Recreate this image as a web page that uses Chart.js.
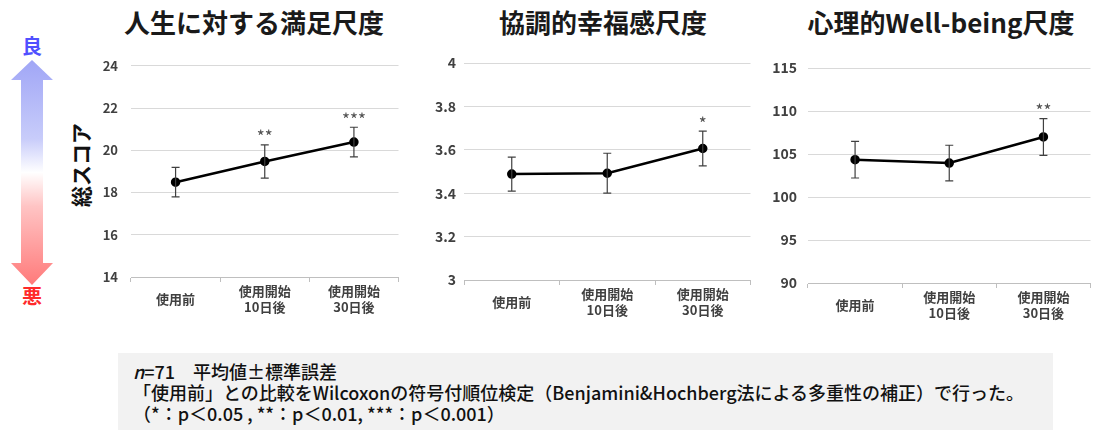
<!DOCTYPE html>
<html>
<head>
<meta charset="utf-8">
<script src="https://cdn.jsdelivr.net/npm/chart.js@4/dist/chart.umd.min.js"></script>
<style>
  body { margin: 0; background: #fff; font-family: "Noto Sans CJK JP", sans-serif; }
  #wrap { position: relative; width: 1097px; height: 430px; overflow: hidden; }
  canvas { position: absolute; }
  .title { position: absolute; top: 4px; font-size: 26px; font-weight: bold; color: #1a1a1a; transform: translateX(-50%); white-space: nowrap; line-height: 36px; }
  #good { position: absolute; left: 22px; top: 31px; font-size: 20px; font-weight: bold; color: #5050ff; }
  #bad { position: absolute; left: 22px; top: 281px; font-size: 20px; font-weight: bold; color: #ff2a2a; }
  #ylab { position: absolute; left: 80px; top: 165px; font-size: 21px; font-weight: bold; color: #111; transform: translate(-50%, -50%) rotate(-90deg); white-space: nowrap; }
  #note { position: absolute; left: 118px; top: 353px; width: 935px; height: 77px; background: #f2f2f2; }
  #note div { position: absolute; left: 15px; font-size: 18px; font-weight: 500; color: #111; white-space: nowrap; line-height: 20px; transform-origin: left center; }
</style>
</head>
<body>
<div id="wrap">
  <svg width="70" height="300" style="position:absolute;left:0;top:0">
    <defs>
      <linearGradient id="grad" x1="0" y1="60" x2="0" y2="285" gradientUnits="userSpaceOnUse">
        <stop offset="0" stop-color="#a0a6f6"/>
        <stop offset="0.35" stop-color="#c8ccfa"/>
        <stop offset="0.5" stop-color="#ffffff"/>
        <stop offset="0.65" stop-color="#ffc4c4"/>
        <stop offset="1" stop-color="#ff7a7a"/>
      </linearGradient>
    </defs>
    <polygon points="32,60 53,80 43,80 43,263 53,263 32,285 11,263 21,263 21,80 11,80" fill="url(#grad)"/>
  </svg>
  <div id="good">良</div>
  <div id="bad">悪</div>
  <div id="ylab">総スコア</div>

  <div class="title" style="left:254px">人生に対する満足尺度</div>
  <div class="title" style="left:603px">協調的幸福感尺度</div>
  <div class="title" style="left:941px">心理的Well-being尺度</div>

  <canvas id="life" width="310" height="290" style="left:95px;top:45px"></canvas>
  <canvas id="harmony" width="337" height="290" style="left:420px;top:45px"></canvas>
  <canvas id="wellbeing" width="337" height="290" style="left:760px;top:45px"></canvas>

  <div id="note">
    <div style="top:8px"><i>n</i>=71　平均値±標準誤差</div>
    <div style="top:29px">「使用前」との比較をWilcoxonの符号付順位検定（Benjamini&amp;Hochberg法による多重性の補正）で行った。</div>
    <div style="top:50px">（*：p＜0.05 , **：p＜0.01, ***：p＜0.001）</div>
  </div>
</div>

<script>
// data
const categories = ["使用前", ["使用開始", "10日後"], ["使用開始", "30日後"]];

const lifeMeans = [18.49, 19.47, 20.39];
const lifeSE = [0.70, 0.79, 0.70];
const lifeMarks = ["", "**", "***"];

const harmonyMeans = [3.488, 3.492, 3.606];
const harmonySE = [0.078, 0.092, 0.080];
const harmonyMarks = ["", "", "*"];

const wellMeans = [104.34, 103.95, 106.98];
const wellSE = [2.13, 2.07, 2.13];
const wellMarks = ["", "", "**"];

const FONT = "'Noto Sans CJK JP', sans-serif";

// error bars + significance marks
const errorBarPlugin = {
  id: "errorBars",
  afterDatasetsDraw(chart, args, opts) {
    const ctx = chart.ctx;
    const meta = chart.getDatasetMeta(0);
    const yScale = chart.scales.y;
    const means = chart.data.datasets[0].data;
    ctx.save();
    ctx.strokeStyle = "#404040";
    ctx.lineWidth = 1.2;
    meta.data.forEach((pt, i) => {
      const x = pt.x;
      const top = yScale.getPixelForValue(means[i] + opts.errors[i]);
      const bot = yScale.getPixelForValue(means[i] - opts.errors[i]);
      ctx.beginPath();
      ctx.moveTo(x, top); ctx.lineTo(x, bot);
      ctx.moveTo(x - 4, top); ctx.lineTo(x + 4, top);
      ctx.moveTo(x - 4, bot); ctx.lineTo(x + 4, bot);
      ctx.stroke();
      if (opts.marks[i]) {
        ctx.fillStyle = "#505050";
        ctx.font = "17px " + FONT;
        ctx.textAlign = "center";
        ctx.textBaseline = "middle";
        ctx.fillText(opts.marks[i], x, top - 8);
      }
    });
    ctx.restore();
  }
};

function makeChart(id, means, errors, marks, cfg) {
  return new Chart(document.getElementById(id), {
    type: "line",
    data: {
      labels: categories,
      datasets: [{
        data: means,
        borderColor: "#000",
        borderWidth: 2.5,
        pointRadius: 3.5,
        pointBackgroundColor: "#000",
        pointBorderColor: "#000",
        tension: 0,
      }],
    },
    options: {
      responsive: false,
      animation: false,
      devicePixelRatio: 1,
      layout: { padding: { top: cfg.padTop, right: cfg.padRight, left: 0, bottom: 0 } },
      plugins: {
        legend: { display: false },
        tooltip: { enabled: false },
        errorBars: { errors: errors, marks: marks },
      },
      scales: {
        x: {
          offset: true,
          grid: { offset: true, drawOnChartArea: false, color: "#bfbfbf", tickLength: 5 },
          border: { color: "#bfbfbf" },
          ticks: {
            color: "#404040",
            font: { family: FONT, size: 13, weight: "bold" },
            padding: 9,
            maxRotation: 0,
            crossAlign: "center",
          },
          afterFit: (s) => { s.height = cfg.xHeight; },
        },
        y: {
          min: cfg.min,
          max: cfg.max,
          ticks: {
            stepSize: cfg.step,
            color: "#404040",
            font: { family: FONT, size: cfg.yFont, weight: "bold" },
            padding: cfg.yPad,
            callback: (v) => String(Math.round(v * 10) / 10),
          },
          grid: { color: "#d9d9d9", drawTicks: false },
          border: { display: false },
          afterFit: (s) => { s.width = cfg.yWidth; },
        },
      },
    },
    plugins: [errorBarPlugin],
  });
}

makeChart("life", lifeMeans, lifeSE, lifeMarks,
  { min: 14, max: 24, step: 2, padTop: 16, padRight: 5, xHeight: 58, yWidth: 36, yPad: 13, yFont: 13 });
makeChart("harmony", harmonyMeans, harmonySE, harmonyMarks,
  { min: 3, max: 4, step: 0.2, padTop: 18, padRight: 5, xHeight: 55, yWidth: 44, yPad: 8, yFont: 14 });
makeChart("wellbeing", wellMeans, wellSE, wellMarks,
  { min: 90, max: 115, step: 5, padTop: 23, padRight: 2, xHeight: 52, yWidth: 48, yPad: 11, yFont: 14 });
</script>
</body>
</html>
